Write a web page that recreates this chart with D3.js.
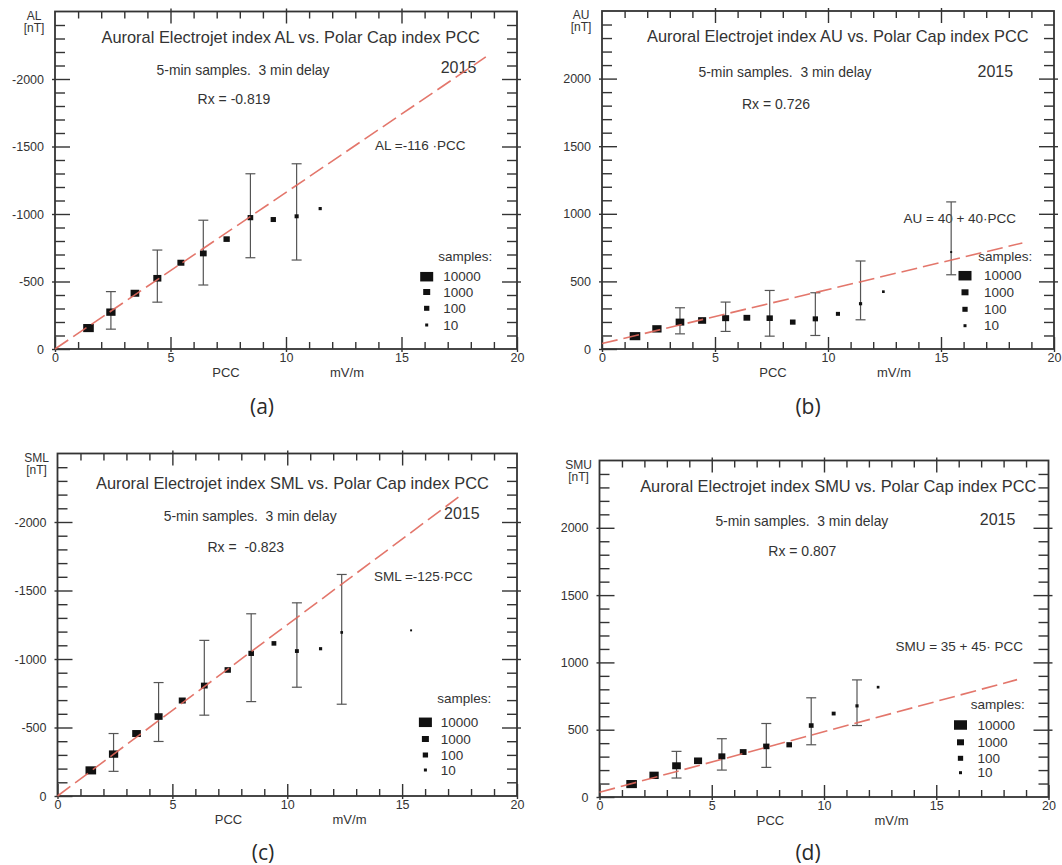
<!DOCTYPE html>
<html>
<head>
<meta charset="utf-8">
<script src="https://cdn.jsdelivr.net/npm/d3@7"></script>
<style>
  body { margin: 0; background: #fff; }
  svg text { font-family: "Liberation Sans", Arial, sans-serif; fill: #333; white-space: pre; }
  svg text.cap { font-family: "Open Sans", "Noto Sans", sans-serif; font-weight: 400; fill: #2a2a2a; }
</style>
</head>
<body>
<svg id="fig" width="1062" height="865"></svg>
<script>
// ---- Binned PCC means (mV/m), index means (nT), sample counts, spread bars ----
const alPcc   = [1.45, 2.42, 3.46, 4.43, 5.45, 6.42, 7.43, 8.46, 9.45, 10.46, 11.48];
const alMean  = [-155, -273, -413, -524, -639, -708, -814, -973, -959, -983, -1040];
const alCount = [4000, 2400, 1900, 1500, 1000, 700, 400, 150, 100, 30, 12];
const alLow   = [null, -147, null, -347, null, -474, null, -676, null, -659, null];
const alHigh  = [null, -425, null, -733, null, -954, null, -1298, null, -1372, null];

const auPcc   = [1.46, 2.43, 3.45, 4.43, 5.47, 6.41, 7.42, 8.44, 9.44, 10.44, 11.44, 12.45, 15.45];
const auMean  = [95, 149, 199, 211, 228, 231, 228, 199, 223, 260, 335, 424, 717];
const auCount = [4000, 2400, 1900, 1500, 1000, 700, 400, 150, 100, 30, 12, 6, 2];
const auLow   = [null, null, 112, null, 130, null, 95, null, 100, null, 216, null, 549];
const auHigh  = [null, null, 305, null, 347, null, 433, null, 416, null, 651, null, 1088];

const smlPcc   = [1.45, 2.44, 3.44, 4.40, 5.43, 6.39, 7.41, 8.43, 9.42, 10.42, 11.45, 12.37, 15.39];
const smlMean  = [-187, -306, -456, -580, -697, -806, -920, -1041, -1114, -1058, -1075, -1194, -1209];
const smlCount = [4000, 2400, 1900, 1500, 1000, 700, 400, 150, 60, 25, 12, 6, 2];
const smlLow   = [null, -180, null, -398, null, -590, null, -689, null, -794, null, -670, null];
const smlHigh  = [null, -456, null, -828, null, -1136, null, -1330, null, -1410, null, -1617, null];

const smuPcc   = [1.43, 2.43, 3.43, 4.39, 5.45, 6.40, 7.43, 8.45, 9.43, 10.43, 11.47, 12.41];
const smuMean  = [96, 161, 232, 269, 302, 334, 376, 388, 531, 620, 677, 816];
const smuCount = [4000, 2400, 1900, 1500, 1000, 700, 400, 150, 60, 25, 12, 6];
const smuLow   = [null, null, 141, null, 200, null, 220, null, 388, null, 531, null];
const smuHigh  = [null, null, 339, null, 433, null, 546, null, 737, null, 870, null];

// ---- Regression fits: index = intercept + slope * PCC ----
const fitIntercept = [0, 40, 0, 35];
const fitSlope     = [-116, 40, -125, 45];
const fitPccMax    = [18.65, 18.6, 17.6, 18.6];

// ---- Text content ----
const indexNames = ["AL", "AU", "SML", "SMU"];
const rxTexts    = ["Rx = -0.819", "Rx = 0.726", "Rx =  -0.823", "Rx = 0.807"];
const fitTexts   = ["AL =-116 \u00b7PCC", "AU = 40 + 40\u00b7PCC", "SML =-125\u00b7PCC", "SMU = 35 + 45\u00b7 PCC"];
const captions   = ["(a)", "(b)", "(c)", "(d)"];
const yearText   = "2015";
const delayText  = "5-min samples.  3 min delay";
const legendCounts = [10000, 1000, 100, 10];
const xTickLabels  = [0, 5, 10, 15, 20];
const yTickLabels  = [0, 500, 1000, 1500, 2000];

const series = [
  { pcc: alPcc,  mean: alMean,  count: alCount,  low: alLow,  high: alHigh,  sign: -1 },
  { pcc: auPcc,  mean: auMean,  count: auCount,  low: auLow,  high: auHigh,  sign: 1 },
  { pcc: smlPcc, mean: smlMean, count: smlCount, low: smlLow, high: smlHigh, sign: -1 },
  { pcc: smuPcc, mean: smuMean, count: smuCount, low: smuLow, high: smuHigh, sign: 1 }
];

// ---- Panel placement ----
const layout = [
  { left: 55,    right: 517,    top: 11.5,  bottom: 349, title: [101.5, 37.7], sub: [156.6, 70],  year: [440.7, 67.7], rx: [197.6, 99.3], fit: [375, 145.7], samp: [438.3, 256], sqX: 426.7, labX: 443.3, rows: [276.7, 292, 308.3, 325], cap: [262, 407] },
  { left: 602,   right: 1054,   top: 11,    bottom: 349, title: [647, 36.7],   sub: [698.5, 72.3], year: [977.5, 71],  rx: [741.9, 104.3], fit: [903.5, 218], samp: [978.3, 256.7], sqX: 965, labX: 984, rows: [275.7, 292.3, 309.3, 325.7], cap: [808, 407] },
  { left: 57.5,  right: 517,    top: 453.5, bottom: 796, title: [96, 483.3],   sub: [163.7, 515.7], year: [444, 513.3], rx: [207.5, 546.7], fit: [373.9, 576.7], samp: [437.3, 698.3], sqX: 425.4, labX: 440.7, rows: [722.3, 739, 755, 770], cap: [263, 853] },
  { left: 599.5, right: 1048.5, top: 460.5, bottom: 797, title: [640.2, 486],  sub: [715.4, 521], year: [979.8, 519.3], rx: [768.3, 550.7], fit: [895.4, 646], samp: [970.7, 704.3], sqX: 960.5, labX: 977.5, rows: [725, 742.3, 758.3, 772.7], cap: [808, 853] }
];

const svg = d3.select("#fig");
const ink = "#333";

// marker size grows with the (log) number of samples in the bin
const markW = d3.scaleLog().domain([1, 10, 100, 1000, 10000]).range([1.5, 3, 5.3, 7, 13]).clamp(true);
const markH = d3.scaleLog().domain([1, 10, 100, 1000, 10000]).range([1.5, 3, 5, 6, 9.5]).clamp(true);

function label(g, x, y, str, size, anchor) {
  return g.append("text")
    .attr("x", x).attr("y", y).attr("dy", "0.35em")
    .attr("font-size", size)
    .attr("text-anchor", anchor || "start")
    .text(str);
}

function styleAxis(a, size) {
  a.attr("font-family", null).attr("font-size", size).attr("color", ink);
  a.select(".domain").remove();
  a.selectAll(".tick line").attr("stroke-width", 1.4);
}

series.forEach((s, k) => {
  const L = layout[k];
  const g = svg.append("g");
  const x = d3.scaleLinear().domain([0, 20]).range([L.left, L.right]);
  const y = d3.scaleLinear().domain([0, 2500 * s.sign]).range([L.bottom, L.top]);

  const yMajor = yTickLabels.map(v => v * s.sign);
  const yMinor = d3.range(100, 2500, 100).filter(v => v % 500).map(v => v * s.sign);
  const xMinor = d3.range(1, 20).filter(v => v % 5);
  const fmt = v => String(v);

  // left axis: labelled majors crossing the frame, minor ticks inside
  g.append("g").attr("transform", `translate(${L.left},0)`)
    .call(d3.axisLeft(y).tickValues(yMajor).tickSizeInner(-15).tickSizeOuter(0).tickPadding(11).tickFormat(fmt))
    .call(a => { styleAxis(a, 12.5); a.selectAll(".tick line").attr("x1", -3); });
  g.append("g").attr("transform", `translate(${L.left},0)`)
    .call(d3.axisLeft(y).tickValues(yMinor).tickSizeInner(-10).tickSizeOuter(0).tickFormat(""))
    .call(a => styleAxis(a, 12.5));
  // right axis mirror
  g.append("g").attr("transform", `translate(${L.right},0)`)
    .call(d3.axisRight(y).tickValues(yMajor.slice(1)).tickSizeInner(-15).tickSizeOuter(0).tickFormat(""))
    .call(a => { styleAxis(a, 12.5); a.selectAll(".tick line").attr("x1", 4); });
  g.append("g").attr("transform", `translate(${L.right},0)`)
    .call(d3.axisRight(y).tickValues(yMinor).tickSizeInner(-10).tickSizeOuter(0).tickFormat(""))
    .call(a => styleAxis(a, 12.5));
  // bottom axis
  g.append("g").attr("transform", `translate(0,${L.bottom})`)
    .call(d3.axisBottom(x).tickValues(xTickLabels).tickSizeInner(-12).tickSizeOuter(0).tickPadding(4).tickFormat(fmt))
    .call(a => { styleAxis(a, 12.5); a.selectAll(".tick line").attr("y1", 3); });
  g.append("g").attr("transform", `translate(0,${L.bottom})`)
    .call(d3.axisBottom(x).tickValues(xMinor).tickSizeInner(-7).tickSizeOuter(0).tickFormat(""))
    .call(a => styleAxis(a, 12.5));
  // top axis mirror
  g.append("g").attr("transform", `translate(0,${L.top})`)
    .call(d3.axisTop(x).tickValues(xTickLabels.slice(1, -1)).tickSizeInner(-12).tickSizeOuter(0).tickFormat(""))
    .call(a => { styleAxis(a, 12.5); a.selectAll(".tick line").attr("y1", -3); });
  g.append("g").attr("transform", `translate(0,${L.top})`)
    .call(d3.axisTop(x).tickValues(xMinor).tickSizeInner(-7).tickSizeOuter(0).tickFormat(""))
    .call(a => styleAxis(a, 12.5));

  // plot frame
  g.append("rect")
    .attr("x", L.left).attr("y", L.top)
    .attr("width", L.right - L.left).attr("height", L.bottom - L.top)
    .attr("fill", "none").attr("stroke", ink).attr("stroke-width", 1.8);

  // axis titles
  label(g, L.left - 21, L.top + 4, indexNames[k], 12, "middle");
  label(g, L.left - 21, L.top + 16, "[nT]", 12, "middle");
  label(g, L.left + 171, L.bottom + 23, "PCC", 13, "middle");
  label(g, L.left + 292, L.bottom + 23, "mV/m", 13, "middle");

  // annotations
  label(g, L.title[0], L.title[1], `Auroral Electrojet index ${indexNames[k]} vs. Polar Cap index PCC`, 16.4);
  label(g, L.sub[0], L.sub[1], delayText, 13.9);
  label(g, L.year[0], L.year[1], yearText, 16);
  label(g, L.rx[0], L.rx[1], rxTexts[k], 14);
  label(g, L.fit[0], L.fit[1], fitTexts[k], 13.5);

  // spread bars
  const bars = g.append("g").attr("stroke", "#555").attr("stroke-width", 1.2).attr("fill", "none");
  s.pcc.forEach((p, i) => {
    if (s.low[i] === null) return;
    const cx = x(p), y0 = y(s.low[i]), y1 = y(s.high[i]);
    bars.append("line").attr("x1", cx).attr("x2", cx).attr("y1", y0).attr("y2", y1);
    bars.append("line").attr("x1", cx - 5).attr("x2", cx + 5).attr("y1", y0).attr("y2", y0);
    bars.append("line").attr("x1", cx - 5).attr("x2", cx + 5).attr("y1", y1).attr("y2", y1);
  });

  // bin means, sized by sample count
  g.append("g").selectAll("rect")
    .data(s.pcc.map((p, i) => ({ p, v: s.mean[i], n: s.count[i] })))
    .join("rect")
    .attr("x", d => x(d.p) - markW(d.n) / 2)
    .attr("y", d => y(d.v) - markH(d.n) / 2)
    .attr("width", d => markW(d.n))
    .attr("height", d => markH(d.n))
    .attr("fill", "#111");

  // regression line
  const fitPts = [0, fitPccMax[k]].map(p => [p, fitIntercept[k] + fitSlope[k] * p]);
  g.append("path")
    .attr("d", d3.line().x(d => x(d[0])).y(d => y(d[1]))(fitPts))
    .attr("fill", "none").attr("stroke", "#e0675b").attr("stroke-width", 1.6)
    .attr("stroke-dasharray", "16,6").attr("opacity", 0.9);

  // sample-count key
  label(g, L.samp[0], L.samp[1], "samples:", 13.5);
  legendCounts.forEach((n, j) => {
    g.append("rect")
      .attr("x", L.sqX - markW(n) / 2).attr("y", L.rows[j] - markH(n) / 2)
      .attr("width", markW(n)).attr("height", markH(n)).attr("fill", "#111");
    label(g, L.labX, L.rows[j], String(n), 13.5);
  });

  // panel letter
  g.append("text").attr("class", "cap")
    .attr("x", L.cap[0]).attr("y", L.cap[1]).attr("dy", "0.35em")
    .attr("font-size", 21).attr("text-anchor", "middle")
    .text(captions[k]);
});
</script>
</body>
</html>
